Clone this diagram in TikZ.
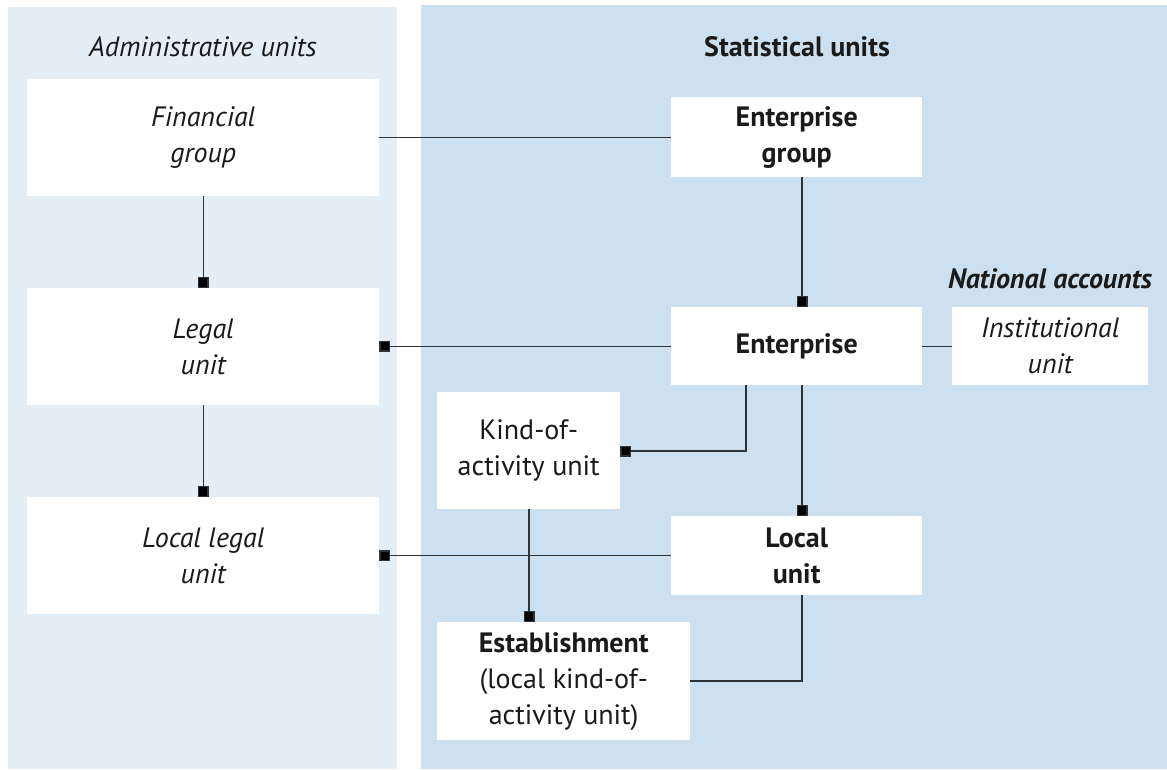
\documentclass[tikz,border=0pt]{standalone}
\usepackage{fontspec}
\setmainfont{PT Sans}
\usetikzlibrary{arrows.meta}
\definecolor{admbg}{HTML}{E3EEF6}
\definecolor{statbg}{HTML}{CCE0EF}
\definecolor{ink}{HTML}{1A1A1A}
\definecolor{wire}{HTML}{2E3338}
\begin{document}
\begin{tikzpicture}[x=1pt,y=-1pt,
  box/.style={fill=white, inner sep=0pt, align=center, text=ink, anchor=north west,
    font=\fontsize{28}{36}\selectfont},
  title/.style={text=ink, inner sep=0pt},
  link/.style={draw=wire, line width=1.3pt},
  sq/.style={link, -{Square[length=11pt,width=11pt,fill=black]}}
]
\useasboundingbox (0,0) rectangle (1167,769);
\fill[white] (0,0) rectangle (1167,769);
\fill[admbg] (8,7) rectangle (397,769);
\fill[statbg] (421,5) rectangle (1167,769);

\node[title, font=\fontsize{28}{32}\selectfont\itshape] (tadm) at (203,47) {Administrative units};
\node[title, font=\fontsize{28}{32}\selectfont\bfseries] (tstat) at (797,47) {Statistical units};
\node[title, font=\fontsize{28}{32}\selectfont\bfseries\itshape] (tnat) at (1050,279) {National accounts};

\node[box, minimum width=352pt, minimum height=117pt, font=\fontsize{28}{36}\selectfont\itshape] (fg) at (27,79) {Financial\\group};
\node[box, minimum width=352pt, minimum height=117pt, font=\fontsize{28}{36}\selectfont\itshape] (lu) at (27,288) {Legal\\unit};
\node[box, minimum width=352pt, minimum height=117pt, font=\fontsize{28}{36}\selectfont\itshape] (llu) at (27,497) {Local legal\\unit};

\node[box, minimum width=251pt, minimum height=80pt, font=\fontsize{28}{36}\selectfont\bfseries] (eg) at (671,97) {Enterprise\\group};
\node[box, minimum width=251pt, minimum height=78pt, font=\fontsize{28}{36}\selectfont\bfseries] (ent) at (671,307) {Enterprise};
\node[box, minimum width=196pt, minimum height=78pt, font=\fontsize{28}{36}\selectfont\itshape] (inst) at (952,307) {Institutional\\unit};
\node[box, minimum width=183pt, minimum height=117pt] (kau) at (437,392) {Kind-of-\\activity unit};
\node[box, minimum width=251pt, minimum height=79pt, font=\fontsize{28}{36}\selectfont\bfseries] (loc) at (671,516) {Local\\unit};
\node[box, minimum width=253pt, minimum height=118pt] (est) at (437,622) {\textbf{Establishment}\\(local kind-of-\\activity unit)};

\draw[link] (fg.east) -- (eg.west |- fg.east);
\draw[sq] (fg.south) -- (lu.north);
\draw[sq] (lu.south) -- (llu.north);
\draw[sq] (eg.south -| 802,0) -- (ent.north -| 802,0);
\draw[sq] (ent.west) -- (lu.east |- ent.west);
\draw[link] (ent.east) -- (inst.west);
\draw[sq] (ent.south -| 746,0) |- (kau.east |- 0,451);
\draw[sq] (ent.south -| 802,0) -- (loc.north -| 802,0);
\draw[sq] (loc.west) -- (llu.east |- loc.west);
\draw[sq] (kau.south -| 529,0) -- (est.north -| 529,0);
\draw[link] (loc.south -| 802,0) |- (est.east |- 0,681);
\end{tikzpicture}
\end{document}
